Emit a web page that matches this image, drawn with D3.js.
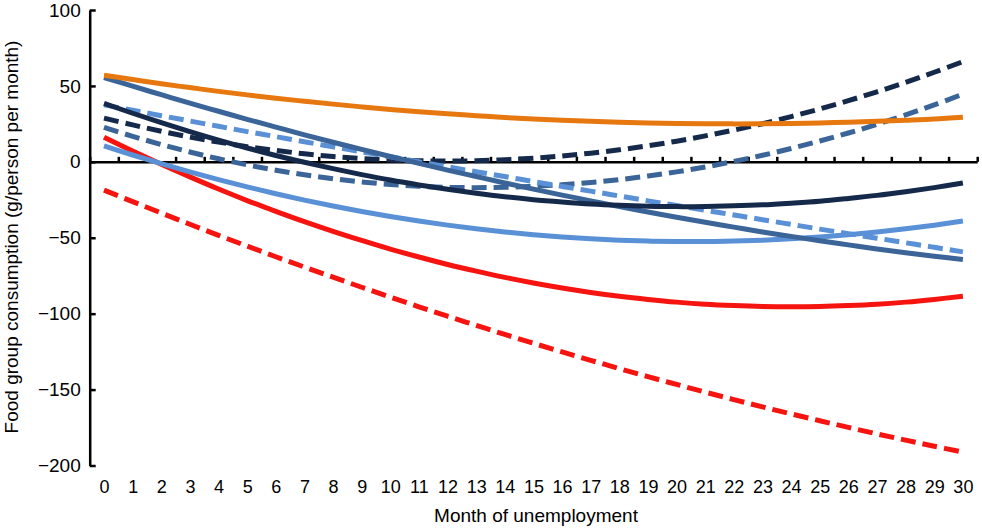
<!DOCTYPE html>
<html>
<head>
<meta charset="utf-8">
<script src="https://cdn.jsdelivr.net/npm/d3@7"></script>
<style>
body{margin:0;background:#fff;}
svg text{font-family:"Liberation Sans",Arial,Helvetica,sans-serif;fill:#000;}
</style>
</head>
<body>
<div id="container"></div>
<script>
var months = [0,1,2,3,4,5,6,7,8,9,10,11,12,13,14,15,16,17,18,19,20,21,22,23,24,25,26,27,28,29,30];
var yTicks = [100,50,0,-50,-100,-150,-200];

// one value per month
var orangeSolid   = [57.0,54.2,51.4,48.9,46.4,44.1,41.9,39.9,38.0,36.2,34.5,33.0,31.6,30.4,29.2,28.2,27.4,26.7,26.1,25.6,25.3,25.1,25.0,25.1,25.3,25.6,26.1,26.7,27.4,28.2,29.4];
var steelSolid    = [55.5,49.8,44.2,38.6,33.3,28.0,22.9,17.8,12.9,8.2,3.5,-1.0,-5.5,-9.7,-13.9,-18.0,-21.9,-25.7,-29.5,-33.0,-36.5,-39.8,-43.0,-46.2,-49.1,-52.0,-54.7,-57.4,-59.9,-62.2,-64.3];
var navySolid     = [38.5,32.0,25.8,19.9,14.3,9.1,4.2,-0.3,-4.5,-8.4,-12.0,-15.2,-18.1,-20.7,-23.0,-24.9,-26.4,-27.7,-28.6,-29.2,-29.5,-29.4,-29.0,-28.3,-27.2,-25.9,-24.1,-22.1,-19.7,-17.0,-14.0];
var lightDashed   = [37.5,34.0,30.4,26.9,23.4,19.9,16.6,13.2,9.9,6.6,3.3,0.0,-3.3,-6.5,-9.7,-13.0,-16.2,-19.3,-22.5,-25.7,-28.8,-31.9,-35.0,-38.1,-41.2,-44.3,-47.3,-50.3,-53.3,-56.3,-59.3];
var navyDashed    = [28.8,24.3,20.1,16.3,13.0,10.0,7.5,5.3,3.5,2.2,1.2,0.7,0.5,0.7,1.4,2.4,3.9,5.7,7.9,10.6,13.6,17.1,20.9,25.1,29.8,34.8,40.3,46.1,52.3,59.0,66.0];
var steelDashed   = [22.7,16.8,11.4,6.5,2.0,-2.0,-5.5,-8.5,-11.1,-13.2,-14.9,-16.1,-16.8,-17.0,-16.8,-16.1,-15.1,-13.6,-11.7,-9.3,-6.6,-3.4,0.3,4.3,8.8,13.7,19.0,24.7,30.9,37.5,44.6];
var redSolid      = [16.2,7.1,-1.6,-9.9,-17.9,-25.5,-32.6,-39.4,-45.8,-51.8,-57.5,-62.7,-67.6,-72.0,-76.1,-79.8,-83.1,-86.0,-88.5,-90.6,-92.4,-93.8,-94.7,-95.3,-95.5,-95.3,-94.7,-93.8,-92.4,-90.6,-88.5];
var lightSolid    = [10.5,4.5,-1.2,-6.6,-11.7,-16.5,-21.0,-25.2,-29.1,-32.7,-36.0,-39.0,-41.7,-44.1,-46.2,-48.0,-49.5,-50.7,-51.6,-52.2,-52.5,-52.5,-52.2,-51.6,-50.7,-49.5,-48.0,-46.2,-44.1,-41.7,-39.0];
var redDashed     = [-18.6,-26.2,-33.7,-41.1,-48.4,-55.5,-62.5,-69.3,-76.0,-82.6,-89.1,-95.5,-101.7,-107.7,-113.7,-119.5,-125.2,-130.7,-136.2,-141.5,-146.6,-151.7,-156.6,-161.4,-166.0,-170.5,-174.9,-179.2,-183.3,-187.3,-191.2];

var width = 982, height = 529;
var svg = d3.select('#container')
    .append('svg')
    .attr('width', width)
    .attr('height', height);

var x = d3.scaleLinear().domain([-0.5, 30.5]).range([89.7, 977.2]);
var y = d3.scaleLinear().domain([-200, 100]).range([465.5, 10]);

// y axis, ticks point inward
var yAxis = svg.append('g')
    .attr('transform', 'translate(' + x(-0.5) + ',0)')
    .call(d3.axisLeft(y).tickValues(yTicks).tickSizeInner(-6).tickSizeOuter(0).tickPadding(9)
        .tickFormat(function(d){ return d < 0 ? '\u2212' + Math.abs(d) : d; }));
yAxis.selectAll('path, line').attr('stroke', '#000').attr('stroke-width', 2.5);
yAxis.selectAll('text').attr('font-size', 19);

// x axis line on zero, ticks between months, pointing up
var boundaries = months.map(function(m){ return m - 0.5; }).concat([30.5]);
var xAxis = svg.append('g')
    .attr('transform', 'translate(0,' + y(0) + ')')
    .call(d3.axisTop(x).tickValues(boundaries).tickSizeInner(5).tickSizeOuter(0).tickFormat(''));
xAxis.selectAll('path, line').attr('stroke', '#000').attr('stroke-width', 2.5);

// month labels under the plot
var xLabels = svg.append('g')
    .attr('transform', 'translate(0,' + (y(-200) + 15) + ')')
    .call(d3.axisBottom(x).tickValues(months).tickSize(0).tickPadding(0).tickFormat(d3.format('d')));
xLabels.select('.domain').remove();
xLabels.selectAll('text').attr('font-size', 18);

var series = [
    {values: redDashed,   color: '#f5140f', dash: '15,7'},
    {values: redSolid,    color: '#f5140f', dash: null},
    {values: lightSolid,  color: '#5a91d6', dash: null},
    {values: steelDashed, color: '#3b6598', dash: '15,7'},
    {values: navyDashed,  color: '#15294b', dash: '15,7'},
    {values: lightDashed, color: '#5a91d6', dash: '15,7'},
    {values: steelSolid,  color: '#3b6598', dash: null},
    {values: navySolid,   color: '#15294b', dash: null},
    {values: orangeSolid, color: '#e6780f', dash: null}
];

var line = d3.line()
    .x(function(d, i){ return x(months[i]); })
    .y(function(d){ return y(d); })
    .curve(d3.curveCatmullRom);

var i;
for(i = 0; i < series.length; i++){
    svg.append('path')
        .datum(series[i].values)
        .attr('d', line)
        .attr('fill', 'none')
        .attr('stroke', series[i].color)
        .attr('stroke-width', 5)
        .attr('stroke-dasharray', series[i].dash);
}

svg.append('text')
    .attr('x', 536)
    .attr('y', 522)
    .attr('text-anchor', 'middle')
    .attr('font-size', 19)
    .text('Month of unemployment');

svg.append('text')
    .attr('transform', 'translate(18,237) rotate(-90)')
    .attr('text-anchor', 'middle')
    .attr('font-size', 19)
    .text('Food group consumption (g/person per month)');
</script>
</body>
</html>
